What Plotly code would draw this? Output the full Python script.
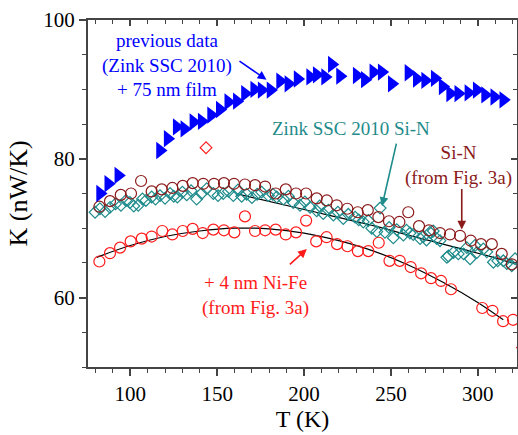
import plotly.graph_objects as go

# Previous data (Zink SSC 2010) + 75 nm film
blue_T = [82.6, 87.3, 93.1, 117.1, 121.5, 126.7, 131.1, 136.3, 141.1, 146.5, 151.5, 156.4,
          161.3, 166.0, 171.3, 175.6, 180.7, 186.2, 191.0, 196.3, 203.5, 207.3, 212.1, 216.0,
          220.7, 230.3, 235.0, 239.9, 244.7, 250.5, 260.1, 264.9, 269.7, 275.2, 279.8, 284.1,
          288.8, 294.6, 299.4, 304.2, 309.5, 314.7]
blue_K = [75.0, 76.4, 77.6, 81.2, 82.9, 84.6, 84.3, 85.3, 85.4, 86.3, 87.1, 88.2,
          88.3, 89.4, 90.0, 89.9, 89.9, 91.2, 90.8, 91.5, 91.8, 92.1, 91.8, 93.6,
          91.9, 92.0, 91.4, 92.5, 92.5, 90.8, 92.4, 91.5, 91.3, 91.6, 90.4, 89.4,
          89.4, 89.5, 89.9, 89.2, 88.9, 88.5]

# Zink SSC 2010 Si-N
teal_T = [79.7, 82.5, 85.5, 88.3, 91.5, 94.6, 97.5, 99.8, 102.0, 104.6, 107.0, 109.0,
          112.3, 114.5, 117.1, 120.0, 122.9, 125.0, 127.1, 130.0, 132.5, 135.0, 138.2, 141.0,
          144.0, 147.8, 150.5, 153.5, 156.5, 159.3, 162.0, 164.1, 167.0, 170.0, 173.0, 175.6,
          179.5, 182.0, 184.3, 188.1, 191.0, 193.8, 197.7, 200.5, 203.5, 207.3, 209.0, 211.1,
          214.0, 216.9, 219.5, 222.6, 225.5, 229.4, 231.5, 234.1, 237.0, 239.0, 241.9, 243.8,
          246.6, 249.0, 251.4, 253.4, 257.2, 259.0, 261.0, 262.9, 266.8, 268.7, 270.5, 272.5,
          274.4, 276.4, 278.3, 282.2, 283.1, 286.0, 288.8, 291.9, 293.7, 295.6, 298.4, 299.5,
          303.2, 305.2, 309.0, 311.5, 314.7, 316.7, 319.6, 321.5]
teal_K = [72.3, 72.8, 72.4, 73.0, 73.5, 73.3, 74.0, 73.7, 73.2, 73.3, 74.2, 74.0,
          74.5, 74.2, 74.7, 74.3, 75.0, 74.6, 74.5, 75.2, 74.8, 75.4, 74.2, 75.0,
          75.7, 75.0, 74.7, 75.0, 75.3, 74.7, 75.5, 74.6, 74.9, 74.4, 74.9, 75.2,
          74.7, 74.9, 74.5, 74.2, 74.6, 73.7, 73.3, 73.8, 73.0, 72.5, 73.2, 72.1,
          72.6, 71.9, 72.3, 71.4, 72.0, 71.6, 71.2, 70.9, 71.1, 70.0, 69.5, 72.9,
          69.4, 70.1, 68.6, 69.8, 69.0, 69.7, 69.3, 69.1, 68.5, 68.8, 68.3, 69.4,
          69.6, 68.5, 68.2, 65.8, 66.0, 66.5, 66.3, 66.3, 67.2, 65.6, 67.5, 66.5,
          67.0, 66.6, 65.1, 65.3, 65.3, 64.9, 64.6, 65.6]

# Si-N (from Fig. 3a)
sin_T = [82.2, 88.3, 94.5, 100.4, 106.2, 112.3, 118.1, 124.2, 130.2, 135.9, 142.0, 148.2,
         153.9, 159.7, 166.0, 171.8, 177.6, 183.7, 189.5, 195.4, 201.2, 207.3, 213.1, 218.8,
         224.9, 230.9, 236.7, 242.8, 248.9, 254.9, 260.0, 266.2, 271.9, 278.3, 284.0, 289.8,
         296.0, 301.9, 308.1, 313.8, 319.6]
sin_K = [73.1, 73.9, 74.8, 75.0, 76.8, 75.3, 75.6, 75.8, 76.1, 76.5, 76.4, 76.4,
         76.5, 76.4, 76.3, 76.2, 76.0, 75.0, 75.6, 75.0, 75.0, 74.3, 74.0, 73.3,
         72.8, 72.3, 72.6, 71.6, 71.0, 70.9, 72.3, 70.3, 69.7, 69.3, 69.1, 68.9,
         68.2, 67.7, 67.7, 66.3, 64.8]

# + 4 nm Ni-Fe (from Fig. 3a)
nife_T = [82.2, 88.3, 94.1, 100.2, 106.6, 112.3, 118.4, 124.2, 130.2, 135.9, 141.7, 147.8,
          153.9, 159.9, 166.0, 171.8, 177.6, 183.7, 189.5, 195.4, 201.2, 207.0, 213.0, 219.0,
          225.0, 231.0, 237.0, 243.0, 249.2, 255.1, 261.4, 267.4, 273.1, 278.9, 284.6, 302.6,
          308.5, 314.6, 320.3]
nife_K = [65.2, 66.4, 67.2, 68.1, 68.5, 68.8, 69.6, 69.1, 69.6, 69.9, 69.3, 69.8,
          69.7, 69.4, 71.7, 69.6, 69.7, 69.8, 69.1, 69.4, 71.1, 68.1, 68.7, 67.7,
          67.4, 66.7, 66.7, 67.9, 65.3, 65.3, 64.4, 63.5, 62.8, 62.4, 61.2, 58.5,
          58.1, 56.6, 56.8]

# isolated red diamonds
rdia_T = [143.6, 325.8]
rdia_K = [81.6, 52.8]

# smooth fit curves
fit_nife_T = [80.6, 100, 120, 140, 160, 180, 200, 220, 240, 260, 280, 300, 314.7]
fit_nife_K = [65.8, 67.5, 68.8, 69.6, 70.0, 69.9, 69.3, 68.2, 66.7, 64.7, 62.2, 59.3, 56.8]
fit_sin_T = [162, 200, 241, 260, 309, 321]
fit_sin_K = [74.9, 72.7, 70.3, 69.0, 65.8, 64.9]

BLUE = "#0000ff"
TEAL = "#1f8b8b"
DRED = "#8b1a1a"
RED = "#ff1a1a"
FONT = "Liberation Serif, Times New Roman, serif"

fig = go.Figure()
fig.add_trace(go.Scatter(x=fit_nife_T, y=fit_nife_K, mode="lines", line=dict(color="black", width=1.2, shape="spline")))
fig.add_trace(go.Scatter(x=fit_sin_T, y=fit_sin_K, mode="lines", line=dict(color="black", width=1.2, shape="spline")))
fig.add_trace(go.Scatter(x=teal_T, y=teal_K, mode="markers",
                         marker=dict(symbol="diamond-open", size=9, color=TEAL, line=dict(width=1.2, color=TEAL))))
fig.add_trace(go.Scatter(x=sin_T, y=sin_K, mode="markers",
                         marker=dict(symbol="circle-open", size=11, color=DRED, line=dict(width=1.2, color=DRED))))
fig.add_trace(go.Scatter(x=nife_T, y=nife_K, mode="markers",
                         marker=dict(symbol="circle-open", size=11, color=RED, line=dict(width=1.2, color=RED))))
fig.add_trace(go.Scatter(x=rdia_T, y=rdia_K, mode="markers",
                         marker=dict(symbol="diamond-open", size=9, color=RED, line=dict(width=1.2, color=RED))))
fig.add_trace(go.Scatter(x=blue_T, y=blue_K, mode="markers",
                         marker=dict(symbol="triangle-right", size=15, color=BLUE, line=dict(width=0))))
# off-range placeholder so the top/right frame axes carry inward ticks
fig.add_trace(go.Scatter(x=[0], y=[0], xaxis="x2", yaxis="y2", mode="markers",
                         marker=dict(size=1, opacity=0), hoverinfo="skip"))

XR = [75.65, 322.6]
YR = [50, 100]
AX = "#444444"

fig.update_layout(
    width=518, height=435,
    margin=dict(l=88, r=1, t=20, b=68),
    paper_bgcolor="white", plot_bgcolor="white",
    showlegend=False,
    font=dict(family=FONT, color="black"),
    xaxis=dict(range=XR, showgrid=False, zeroline=False, showline=True,
               linecolor=AX, linewidth=2,
               tick0=0, dtick=50, ticks="outside", ticklen=7, tickwidth=1.5, tickcolor=AX,
               tickfont=dict(size=21, family=FONT, color="black"),
               minor=dict(dtick=10, tick0=0, ticks="outside", ticklen=4, tickwidth=1.2, tickcolor=AX),
               title=dict(text="T (K)", font=dict(size=24, family=FONT, color="black"), standoff=4)),
    yaxis=dict(range=YR, showgrid=False, zeroline=False, showline=True,
               linecolor=AX, linewidth=2,
               tick0=0, dtick=20, ticks="outside", ticklen=7, tickwidth=1.5, tickcolor=AX,
               tickfont=dict(size=21, family=FONT, color="black"),
               minor=dict(dtick=5, tick0=0, ticks="outside", ticklen=4, tickwidth=1.2, tickcolor=AX),
               title=dict(text="K (nW/K)", font=dict(size=26, family=FONT, color="black"), standoff=8)),
    xaxis2=dict(range=XR, overlaying="x", side="top", showgrid=False, zeroline=False, showline=True,
                linecolor=AX, linewidth=2, showticklabels=False, tick0=0, dtick=50,
                ticks="inside", ticklen=6, tickwidth=1.5, tickcolor=AX,
                minor=dict(dtick=10, tick0=0, ticks="inside", ticklen=4, tickwidth=1.2, tickcolor=AX)),
    yaxis2=dict(range=YR, overlaying="y", side="right", showgrid=False, zeroline=False, showline=True,
                linecolor=AX, linewidth=2, showticklabels=False, tick0=0, dtick=20,
                ticks="inside", ticklen=6, tickwidth=1.5, tickcolor=AX,
                minor=dict(dtick=5, tick0=0, ticks="inside", ticklen=4, tickwidth=1.2, tickcolor=AX)),
)

# text labels
labels = [
    ("previous data<br>(Zink SSC 2010)<br>+ 75 nm film", 121.1, 93.57, BLUE),
    ("Zink SSC 2010 Si-N", 227.0, 84.4, TEAL),
    ("Si-N<br>(from Fig. 3a)", 288.7, 79.0, DRED),
    ("+ 4 nm Ni-Fe<br>(from Fig. 3a)", 171.8, 60.3, RED),
]
for txt, x, y, c in labels:
    fig.add_annotation(x=x, y=y, xref="x", yref="y", text=txt, showarrow=False,
                       font=dict(size=19, family=FONT, color=c), align="center")

# arrows pointing at the data sets
arrows = [
    (178.4, 91.4, -28.5, -19.5, BLUE),
    (244.9, 73.2, 14.7, -63.8, TEAL),
    (290.8, 69.8, 0, -42, DRED),
    (201.6, 67.0, -18.4, 16.7, RED),
]
for x, y, ax, ay, c in arrows:
    fig.add_annotation(x=x, y=y, xref="x", yref="y", ax=ax, ay=ay, axref="pixel", ayref="pixel",
                       text="", showarrow=True, arrowhead=2, arrowsize=1.1, arrowwidth=1.6,
                       arrowcolor=c)

fig.write_html("out.html")
